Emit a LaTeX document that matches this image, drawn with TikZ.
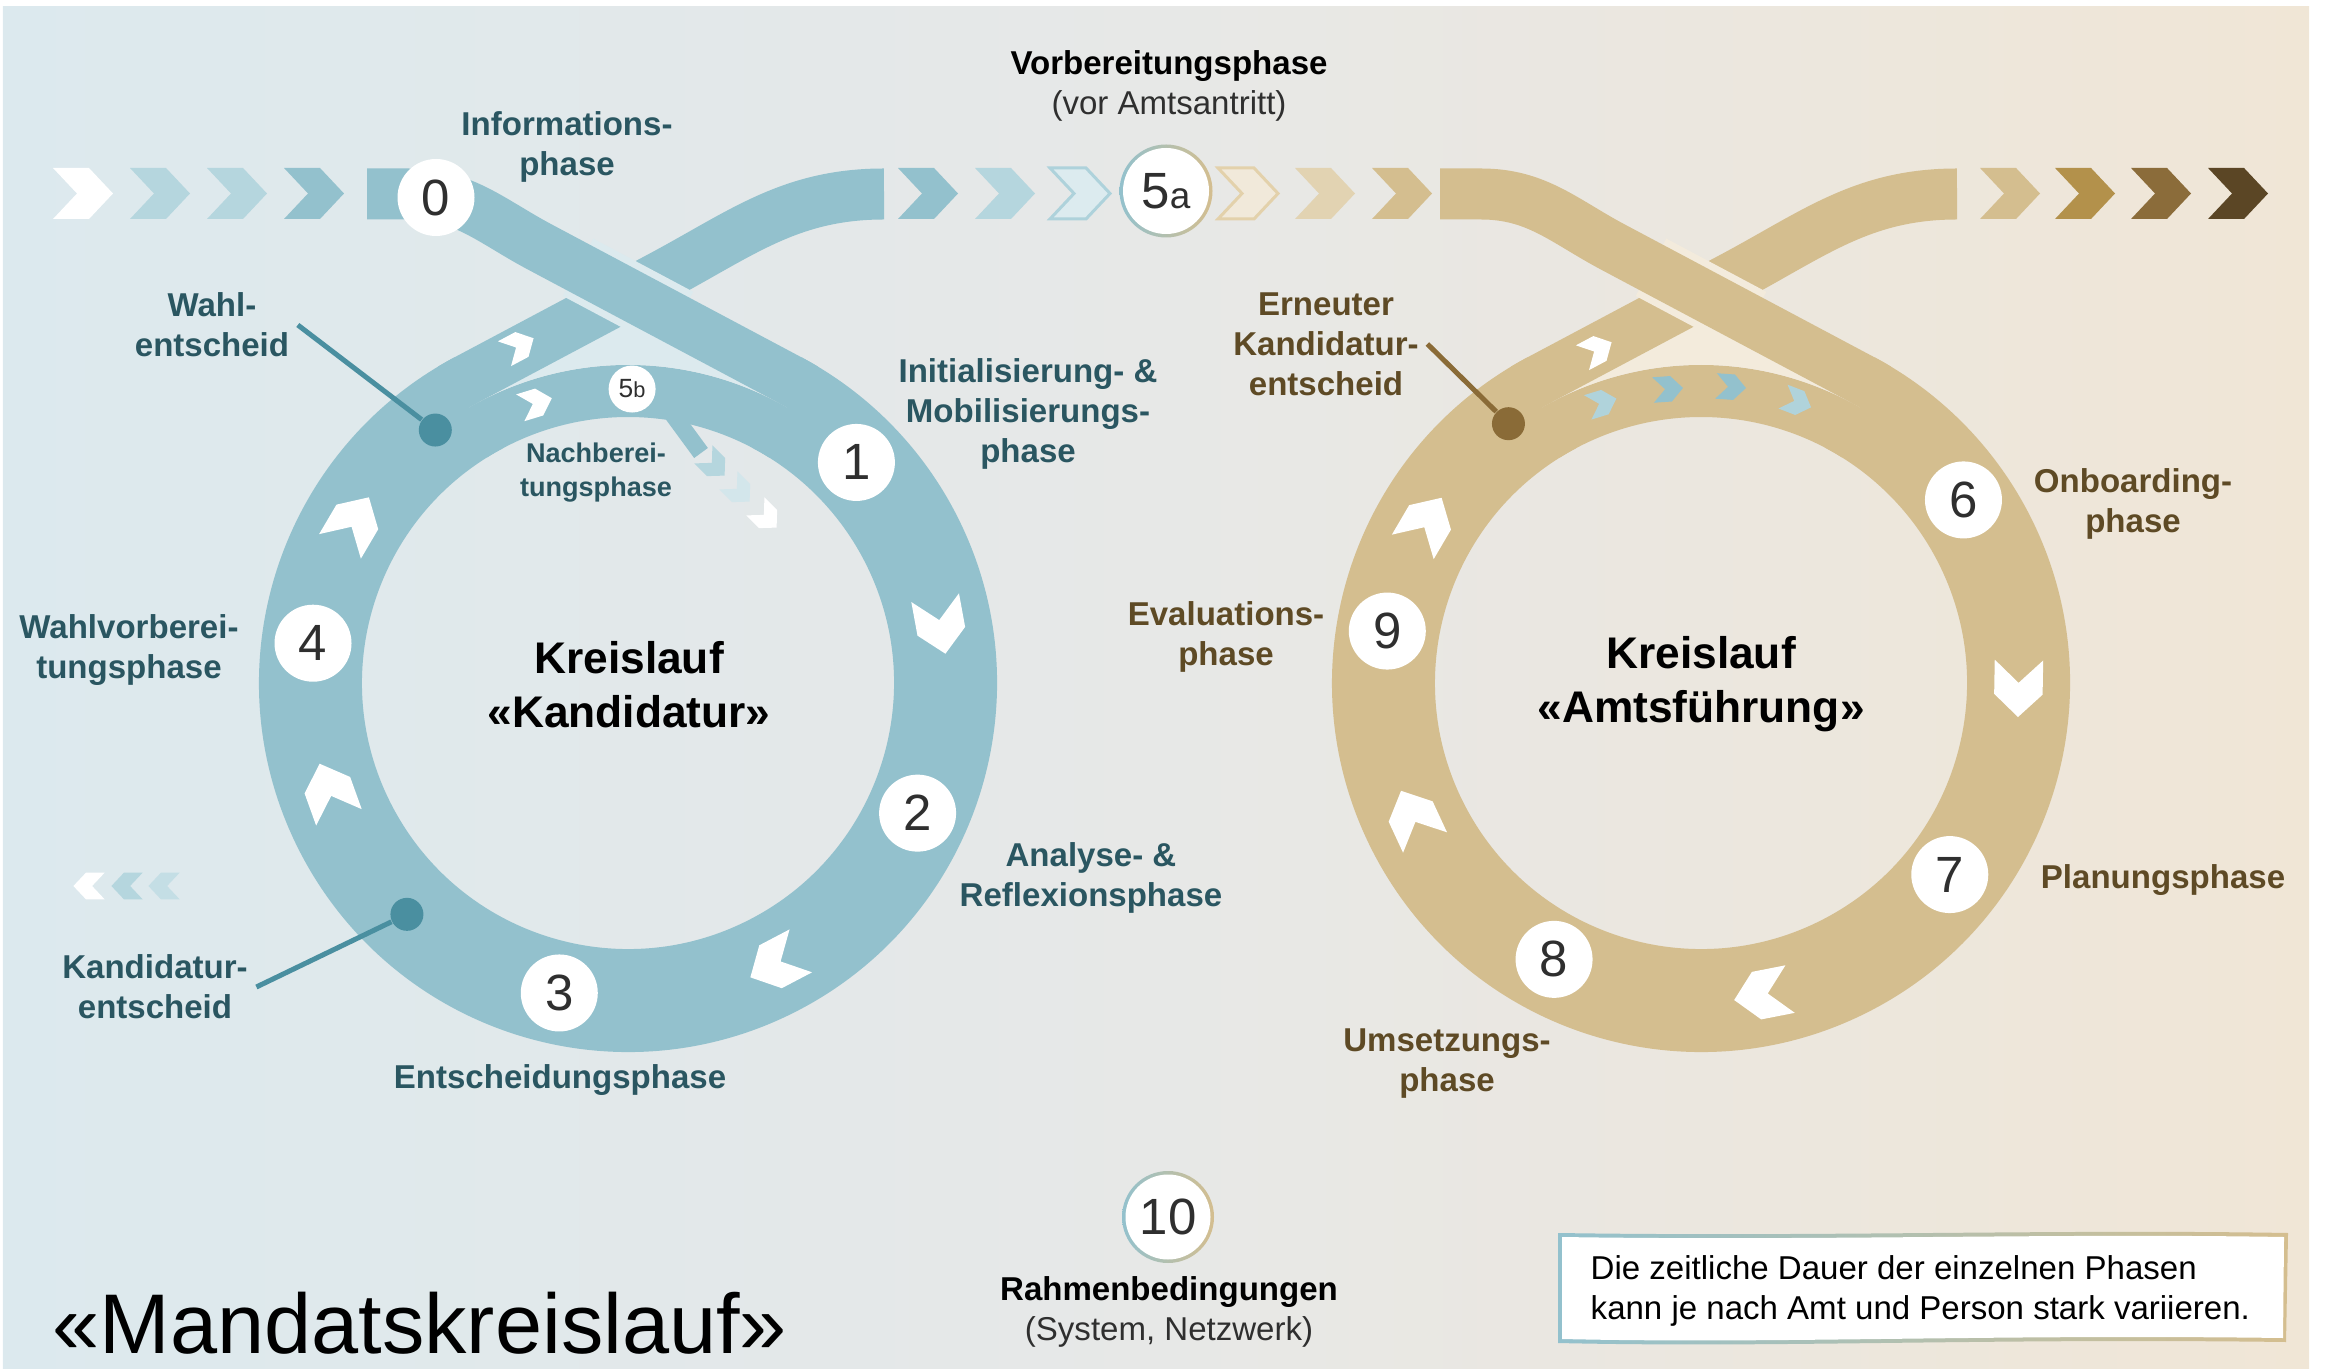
\documentclass[tikz,border=0pt]{standalone}
\usepackage{fontspec}
\setmainfont{Liberation Sans}
\usepackage{tikz}

\definecolor{bandblue}{HTML}{93C1CD}
\definecolor{lightblue}{HTML}{B5D6DE}
\definecolor{paleblue}{HTML}{DCEBEF}
\definecolor{gapblue}{HTML}{DCEAEE}
\definecolor{bandbeige}{HTML}{D4BE8F}
\definecolor{lightbeige}{HTML}{E2D3B2}
\definecolor{palebeige}{HTML}{F1E9DA}
\definecolor{edgebeige}{HTML}{E3D1AB}
\definecolor{gapbeige}{HTML}{F3EBDC}
\definecolor{gold}{HTML}{B3914B}
\definecolor{brownmid}{HTML}{8B6C3A}
\definecolor{browndark}{HTML}{5B4625}
\definecolor{tealtxt}{HTML}{2A5661}
\definecolor{browntxt}{HTML}{5E4A25}
\definecolor{dotteal}{HTML}{4A8FA0}
\definecolor{dotbrown}{HTML}{8A6B37}
\definecolor{numgray}{HTML}{2F2F2F}
\definecolor{bgleft}{HTML}{DCE9EE}
\definecolor{bgmid}{HTML}{E7E8E7}
\definecolor{bgright}{HTML}{F0E6D6}

\tikzset{pics/chev/.style={code={\path[#1] (-0.30,0.255) -- (0.06,0.255) -- (0.30,0) -- (0.06,-0.255) -- (-0.30,-0.255) -- (-0.06,0) -- cycle;}}}

\begin{document}
\begin{tikzpicture}[
    num/.style={circle, fill=white, minimum size=0.77cm, inner sep=0pt, text=numgray, font=\fontsize{14.5}{14.5}\selectfont},
    lblL/.style={align=center, text=tealtxt, inner sep=0.08cm, font=\bfseries\fontsize{9.4}{11.4}\selectfont},
    lblR/.style={lblL, text=browntxt},
    head/.style={align=center, text=black, font=\bfseries\fontsize{9.4}{11.4}\selectfont},
    kreis/.style={align=center, text=black, font=\bfseries\fontsize{12.6}{15.3}\selectfont},
    dotL/.style={circle, fill=dotteal, minimum size=0.33cm, inner sep=0pt},
    dotR/.style={dotL, fill=dotbrown},
    callL/.style={draw=dotteal, line width=0.05cm},
    callR/.style={callL, draw=dotbrown},
  ]
  \useasboundingbox (0,0) rectangle (23.25,13.68);
  \shade[left color=bgleft, right color=bgright, middle color=bgmid] (0.03,0) rectangle (23.09,13.61);

  % chevrons along the top
  \pic at (0.83,11.745) {chev={fill=white}};
  \pic at (1.60,11.745) {chev={fill=lightblue}};
  \pic at (2.37,11.745) {chev={fill=lightblue}};
  \pic at (3.14,11.745) {chev={fill=bandblue}};
  \pic at (9.28,11.745) {chev={fill=bandblue}};
  \pic at (10.05,11.745) {chev={fill=lightblue}};
  \pic at (10.80,11.745) {chev={fill=paleblue, draw=lightblue!80!bandblue, line width=0.03cm}};
  \pic at (12.48,11.745) {chev={fill=palebeige, draw=edgebeige, line width=0.03cm}};
  \pic at (13.25,11.745) {chev={fill=lightbeige}};
  \pic at (14.02,11.745) {chev={fill=bandbeige}};
  \pic at (20.10,11.745) {chev={fill=bandbeige}};
  \pic at (20.85,11.745) {chev={fill=gold}};
  \pic at (21.61,11.745) {chev={fill=brownmid}};
  \pic at (22.38,11.745) {chev={fill=browndark}};

  % Kreislauf Kandidatur
  \begin{scope}[shift={(6.28,6.85)}]
    \fill[gapblue] (118:3.21) arc[start angle=118, end angle=62, radius=3.21] -- (0,3.75) -- cycle;
    \draw[bandblue, line width=1.03cm] (118:3.175) arc[start angle=118, end angle=422, radius=3.175];
    \draw[bandblue, line width=0.52cm] (58:2.92) arc[start angle=58, end angle=122, radius=2.92];
    \draw[gapblue, line width=0.035cm] (60:3.2) arc[start angle=60, end angle=120, radius=3.2];
    \draw[bandblue, line width=0.51cm] (121:3.435) arc[start angle=121, end angle=118, radius=3.435] -- (0.3,4.05) to[out=28, in=180] (2.56,4.89);
    \draw[gapblue, line width=0.65cm] (-0.5,4.157) -- (0.5,3.625);
    \draw[bandblue, line width=0.51cm] (-2.61,4.89) -- (-2.2,4.89) to[out=0, in=152] (-0.88,4.359) -- (62:3.435) arc[start angle=62, end angle=59, radius=3.435];
    \draw[bandblue, line width=0.17cm] (0.40,2.75) -- (0.73,2.30);
    \pic[rotate=-79.6, scale=0.95] at (10.4:3.175) {chev={fill=white}};
    \pic[rotate=-152.3, scale=0.95] at (-62.3:3.175) {chev={fill=white}};
    \pic[rotate=109.8, scale=0.95] at (199.8:3.175) {chev={fill=white}};
    \pic[rotate=59.5, scale=0.95] at (149.5:3.175) {chev={fill=white}};
    \pic[rotate=28, scale=0.55] at (-1.09,3.37) {chev={fill=white}};
    \pic[rotate=17, scale=0.55] at (-0.92,2.80) {chev={fill=white}};
    \pic[rotate=-45, scale=0.5] at (0.86,2.18) {chev={fill=lightblue}};
    \pic[rotate=-45, scale=0.5] at (1.11,1.92) {chev={fill=lightblue!60!white}};
    \pic[rotate=-45, scale=0.5] at (1.38,1.66) {chev={fill=white}};
    \node[num] (n1) at (44:3.175) {1};
    \node[num] (n2) at (-24.2:3.175) {2};
    \node[num] (n3) at (257.5:3.175) {3};
    \node[num] (n4) at (172.8:3.175) {4};
    \node[num, minimum size=0.47cm, font=\fontsize{7.5}{7.5}\selectfont] (n5b) at (89.2:2.94) {5{\fontsize{6.2}{6.2}\selectfont b}};
    \node[dotL] (dotW) at (127.3:3.18) {};
    \node[dotL] (dotK) at (226.3:3.2) {};
  \end{scope}

  % Kreislauf Amtsfuehrung
  \begin{scope}[shift={(17.01,6.85)}]
    \fill[gapbeige] (118:3.21) arc[start angle=118, end angle=62, radius=3.21] -- (0,3.75) -- cycle;
    \draw[bandbeige, line width=1.03cm] (118:3.175) arc[start angle=118, end angle=422, radius=3.175];
    \draw[bandbeige, line width=0.52cm] (58:2.92) arc[start angle=58, end angle=122, radius=2.92];
    \draw[gapbeige, line width=0.035cm] (60:3.2) arc[start angle=60, end angle=120, radius=3.2];
    \draw[bandbeige, line width=0.51cm] (121:3.435) arc[start angle=121, end angle=118, radius=3.435] -- (0.3,4.05) to[out=28, in=180] (2.56,4.89);
    \draw[gapbeige, line width=0.65cm] (-0.5,4.157) -- (0.5,3.625);
    \draw[bandbeige, line width=0.51cm] (-2.61,4.89) -- (-2.2,4.89) to[out=0, in=152] (-0.88,4.359) -- (62:3.435) arc[start angle=62, end angle=59, radius=3.435];
    \pic[rotate=-91, scale=0.95] at (-1:3.175) {chev={fill=white}};
    \pic[rotate=-168.9, scale=0.95] at (-78.9:3.175) {chev={fill=white}};
    \pic[rotate=114.9, scale=0.95] at (204.9:3.175) {chev={fill=white}};
    \pic[rotate=59.6, scale=0.95] at (149.6:3.175) {chev={fill=white}};
    \pic[rotate=28, scale=0.55] at (-1.04,3.33) {chev={fill=white}};
    \pic[rotate=17, scale=0.5] at (-0.99,2.80) {chev={fill=lightblue!85!bandblue}};
    \pic[rotate=4, scale=0.5] at (-0.33,2.94) {chev={fill=bandblue}};
    \pic[rotate=-4, scale=0.5] at (0.30,2.96) {chev={fill=bandblue}};
    \pic[rotate=-21, scale=0.5] at (0.96,2.81) {chev={fill=lightblue!85!bandblue}};
    \node[num] (n6) at (34.9:3.2) {6};
    \node[num] (n7) at (-37.6:3.14) {7};
    \node[num] (n8) at (242:3.13) {8};
    \node[num] (n9) at (170.6:3.18) {9};
    \node[dotR] (dotE) at (126.6:3.23) {};
  \end{scope}

  % chevrons bottom left
  \pic[rotate=180, scale=0.52] at (0.89,4.82) {chev={fill=white}};
  \pic[rotate=180, scale=0.52] at (1.27,4.82) {chev={fill=lightblue}};
  \pic[rotate=180, scale=0.52] at (1.64,4.82) {chev={fill=lightblue!80!white}};

  \node[num] (n0) at (4.36,11.705) {0};
  \shade[left color=bandblue, right color=bandbeige] (11.66,11.77) circle (0.465);
  \node[num, minimum size=0.86cm] (n5a) at (11.66,11.77) {5{\fontsize{10.5}{10.5}\selectfont a}};
  \shade[left color=bandblue, right color=bandbeige] (11.68,1.51) circle (0.46);
  \node[num, minimum size=0.85cm] (n10) at (11.68,1.51) {10};

  % labels
  \node[lblL] (info) at (5.67,12.21) {Informations-\\phase};
  \node[head] (vorb) at (11.69,12.82) {Vorbereitungsphase\\{\mdseries\color{numgray}(vor Amtsantritt)}};
  \node[lblL] (wahl) at (2.12,10.43) {Wahl-\\entscheid};
  \node[lblL] (init) at (10.28,9.54) {Initialisierung- \&\\Mobilisierungs-\\phase};
  \node[lblL, font=\bfseries\fontsize{7.7}{9.7}\selectfont] (nach) at (5.96,8.95) {Nachberei-\\tungsphase};
  \node[lblL] (wvor) at (1.29,7.18) {Wahlvorberei-\\tungsphase};
  \node[lblL] (anal) at (10.91,4.90) {Analyse- \&\\Reflexionsphase};
  \node[lblL] (kand) at (1.55,3.81) {Kandidatur-\\entscheid};
  \node[lblL] (ents) at (5.60,2.88) {Entscheidungsphase};
  \node[kreis] (kreisK) at (6.29,6.83) {Kreislauf\\«Kandidatur»};
  \node[lblR] (erneu) at (13.26,10.24) {Erneuter\\Kandidatur-\\entscheid};
  \node[lblR] (onb) at (21.33,8.64) {Onboarding-\\phase};
  \node[lblR] (eval) at (12.26,7.31) {Evaluations-\\phase};
  \node[kreis] (kreisA) at (17.01,6.84) {Kreislauf\\«Amtsführung»};
  \node[lblR] (plan) at (21.63,4.88) {Planungsphase};
  \node[lblR] (umse) at (14.47,3.04) {Umsetzungs-\\phase};
  \node[head] (rahm) at (11.69,0.56) {Rahmenbedingungen\\{\mdseries\color{numgray}(System, Netzwerk)}};
  \node[anchor=base west, inner sep=0pt, font=\fontsize{24.1}{28}\selectfont] (mandat) at (0.52,0.15) {«Mandatskreislauf»};

  \path (wahl.east) edge[callL] (dotW)
        (kand.east) edge[callL] (dotK)
        (erneu.east) edge[callR] (dotE);

  % note box
  \shade[left color=bandblue, right color=bandbeige, middle color=bandblue!50!bandbeige] (15.58,0.25) .. controls (17.8,0.20) and (19.8,0.30) .. (22.86,0.26) -- (22.88,1.35) .. controls (20.5,1.39) and (18.2,1.31) .. (15.58,1.35) -- cycle;
  \fill[white] (15.62,0.29) .. controls (17.8,0.24) and (19.8,0.34) .. (22.83,0.30) -- (22.84,1.31) .. controls (20.5,1.35) and (18.2,1.27) .. (15.62,1.31) -- cycle;
  \node[anchor=west, align=left, inner sep=0pt, font=\fontsize{9.4}{11.4}\selectfont] (dauer) at (15.90,0.77) {Die zeitliche Dauer der einzelnen Phasen\\kann je nach Amt und Person stark variieren.};
\end{tikzpicture}
\end{document}
